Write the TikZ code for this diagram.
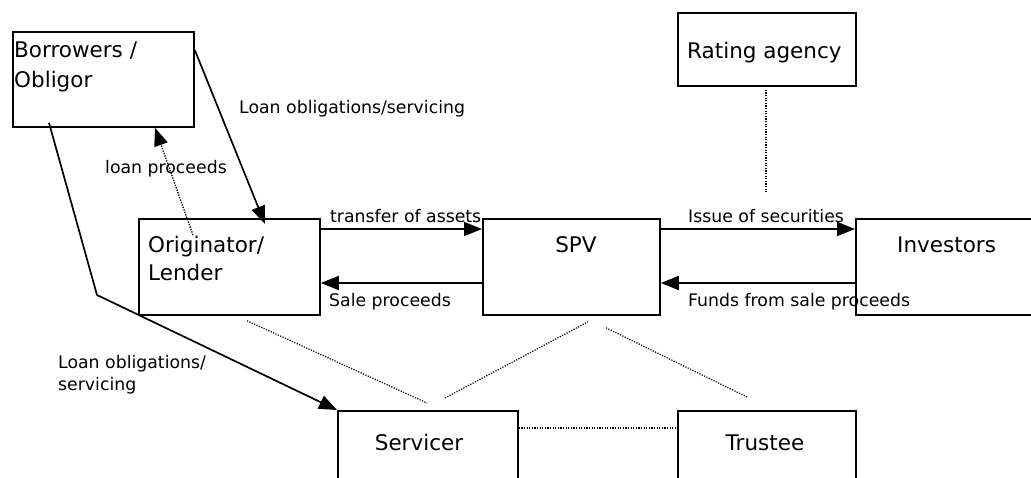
\documentclass[tikz,border=0pt]{standalone}
\usepackage{fontspec}
\setmainfont{DejaVu Sans}
\usetikzlibrary{arrows.meta,calc}
\begin{document}
\begin{tikzpicture}[x=1pt,y=-1pt,
 box/.style={draw, line width=1.8pt, rectangle, anchor=north west, inner sep=0pt},
 big/.style={font=\fontsize{21.5}{28}\selectfont, inner sep=0pt},
 small/.style={font=\fontsize{17.3}{22}\selectfont, inner sep=0pt},
 flow/.style={line width=1.7pt, -{Triangle[length=18pt,width=14pt]}},
 dflow/.style={line width=1.3pt, dash pattern=on 1.3pt off 1.3pt, -{Triangle[length=18pt,width=14pt]}},
 link/.style={line width=1.2pt, dash pattern=on 1.2pt off 1.4pt}]
\useasboundingbox (0,0) rectangle (1031,477);
% boxes
\node[box, minimum width=181pt, minimum height=95pt] (bor) at (12,31) {};
\node[box, minimum width=181pt, minimum height=96pt] (ori) at (138,218) {};
\node[box, minimum width=177pt, minimum height=96pt] (spv) at (482,218) {};
\node[box, minimum width=185pt, minimum height=96pt] (inv) at (855,218) {};
\node[box, minimum width=178pt, minimum height=73pt] (rat) at (677,12) {};
\node[box, minimum width=180pt, minimum height=75pt] (ser) at (337,410) {};
\node[box, minimum width=178pt, minimum height=75pt] (tru) at (677,410) {};
% box texts
\node[big, anchor=base west] (borA) at (14,57) {Borrowers /};
\node[big, anchor=base west] (borB) at (14,87) {Obligor};
\node[big, anchor=base west] (oriA) at (148,252) {Originator/};
\node[big, anchor=base west] (oriB) at (148,280) {Lender};
\node[big, anchor=base] (spvT) at (576,252) {SPV};
\node[big, anchor=base west] (invT) at (897,252) {Investors};
\node[big, anchor=base west] (ratT) at (687,58) {Rating agency};
\node[big, anchor=base] (serT) at (419,450) {Servicer};
\node[big, anchor=base] (truT) at (765,450) {Trustee};
% connector labels
\node[small, anchor=base west] (l1) at (239,113) {Loan obligations/servicing};
\node[small, anchor=base west] (l2) at (105,173) {loan proceeds};
\node[small, anchor=base west] (l3) at (330,222) {transfer of assets};
\node[small, anchor=base west] (l4) at (329,306) {Sale proceeds};
\node[small, anchor=base west] (l5) at (688,222) {Issue of securities};
\node[small, anchor=base west] (l6) at (688,306) {Funds from sale proceeds};
\node[small, anchor=base west] (l7a) at (58,368) {Loan obligations/};
\node[small, anchor=base west] (l7b) at (58,390) {servicing};
% coordinates
\coordinate (bend) at (97,295);
\coordinate (ratEnd) at ($(rat.south west)+(89,105)$);
% solid arrows
\draw[flow] ($(bor.north east)+(0,19)$) -- ($(ori.north west)+(127,6)$);
\draw[flow] ($(bor.south west)+(37,-5)$) -- (bend) -- (ser.north west);
\draw[flow] ($(ori.north east)+(0,11)$) -- ($(spv.north west)+(0,11)$);
\draw[flow] ($(spv.north west)+(0,65)$) -- ($(ori.north east)+(0,65)$);
\draw[flow] ($(spv.north east)+(0,11)$) -- ($(inv.north west)+(0,11)$);
\draw[flow] ($(inv.north west)+(0,65)$) -- ($(spv.north east)+(0,65)$);
% dotted
\draw[dflow] ($(ori.north west)+(55,17)$) -- ($(bor.south west)+(143,0)$);
\draw[link] ($(rat.south west)+(89,3)$) -- (ratEnd);
\draw[link] ($(ori.south west)+(109,5)$) -- ($(ser.north west)+(90,-7)$);
\draw[link] ($(ser.north west)+(108,-12)$) -- ($(spv.south west)+(106,6)$);
\draw[link] ($(spv.south west)+(124,12)$) -- ($(tru.north west)+(70,-13)$);
\draw[link] ($(ser.north east)+(0,18)$) -- ($(tru.north west)+(0,18)$);
\end{tikzpicture}
\end{document}
